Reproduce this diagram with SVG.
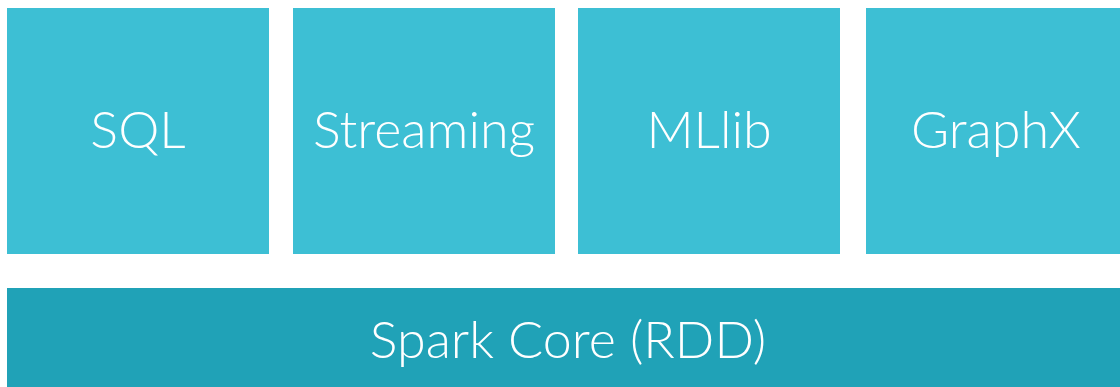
<svg xmlns="http://www.w3.org/2000/svg" width="1120" height="387" viewBox="0 0 1120 387">
<style>
.top{fill:#3DBFD4}
.core{fill:#20A2B7}
.lbl{font-family:"Source Sans Pro","Lato","Open Sans",sans-serif;font-weight:300;font-size:52px;fill:#ffffff;text-anchor:middle}
</style>
<rect x="0" y="0" width="1120" height="387" fill="#ffffff"/>
<g id="sql"><rect class="top" x="7" y="8" width="262" height="246"/><text class="lbl" x="138" y="148">SQL</text></g>
<g id="streaming"><rect class="top" x="293" y="8" width="262" height="246"/><text class="lbl" x="424" y="148">Streaming</text></g>
<g id="mllib"><rect class="top" x="578" y="8" width="262" height="246"/><text class="lbl" x="709" y="148">MLlib</text></g>
<g id="graphx"><rect class="top" x="866" y="8" width="254" height="246"/><text class="lbl" x="996" y="148">GraphX</text></g>
<g id="core"><rect class="core" x="7" y="288" width="1113" height="99"/><text class="lbl" x="568" y="358">Spark Core (RDD)</text></g>
<g id="connectors"></g>
</svg>
